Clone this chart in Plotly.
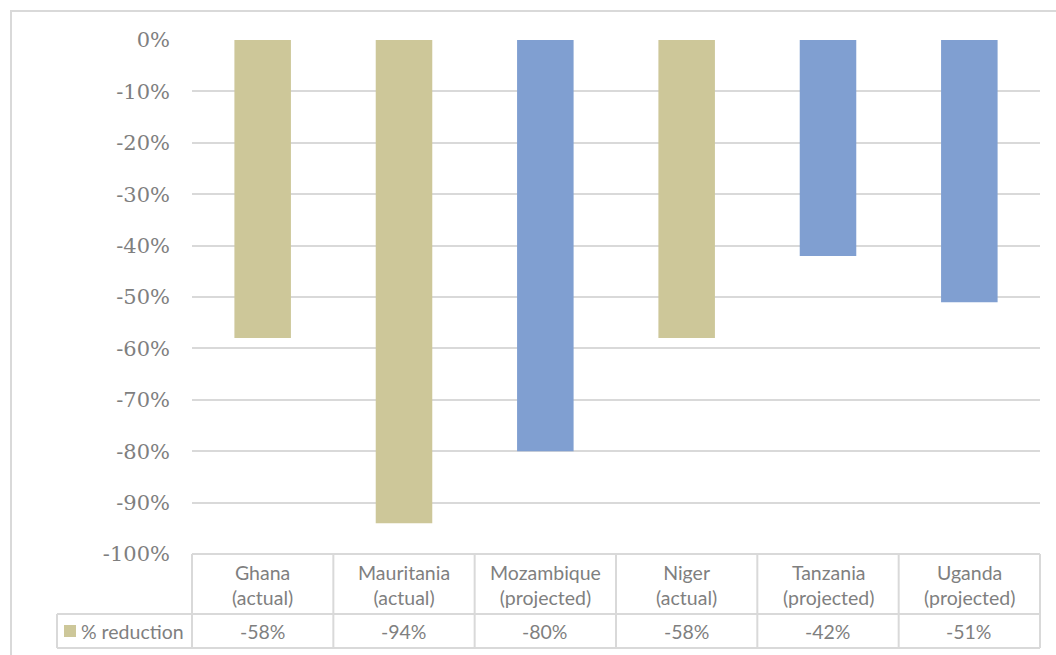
import plotly.graph_objects as go

# ---- data ----
countries = ["Ghana", "Mauritania", "Mozambique", "Niger", "Tanzania", "Uganda"]
status = ["actual", "actual", "projected", "actual", "projected", "projected"]
reduction = [-0.58, -0.94, -0.80, -0.58, -0.42, -0.51]
series_name = "% reduction"
y_ticks = [0, -0.1, -0.2, -0.3, -0.4, -0.5, -0.6, -0.7, -0.8, -0.9, -1.0]

# ---- style ----
W, H = 1056, 655
L, R, T, B = 192, 1040, 40, 554   # plot area in px
TAN = "#CDC799"
BLUE = "#809FD1"
GRID = "#D9D9D9"
TXT = "#7F7F7F"
colors = [TAN if s == "actual" else BLUE for s in status]
labels = [f"{c}<br>({s})" for c, s in zip(countries, status)]

def px(x):
    return (x - L) / (R - L)

def py(y):
    return (B - y) / (B - T)

fig = go.Figure()
fig.add_trace(go.Bar(
    x=list(range(len(countries))), y=reduction, marker_color=colors,
    marker_line_width=0, width=0.4, name=series_name, showlegend=False,
))

fig.update_layout(
    width=W, height=H,
    margin=dict(l=L, r=W - R, t=T, b=H - B),
    plot_bgcolor="white", paper_bgcolor="white",
    xaxis=dict(range=[-0.5, len(countries) - 0.5], showticklabels=False,
               showgrid=False, zeroline=False, showline=False, fixedrange=True),
    yaxis=dict(range=[-1.0, 0.0], tickvals=y_ticks,
               ticktext=[f"-{round(-v*100)}%" if v < 0 else "0%" for v in y_ticks],
               showgrid=True, gridcolor=GRID, gridwidth=1.5,
               zeroline=False, showline=False, ticks="",
               ticklabelstandoff=21,
               tickfont=dict(family="DejaVu Serif", size=21, color=TXT)),
    font=dict(family="Lato", color=TXT),
)

shapes = []
line = dict(color=GRID, width=2)
# outer chart border
shapes.append(dict(type="rect", xref="paper", yref="paper",
                   x0=px(11), x1=px(W + 20), y0=py(H + 20), y1=py(11), line=line))
# table lines
n = len(countries)
cw = (R - L) / n
head_bot, tab_bot, leg_left = 614, 648, 57
shapes.append(dict(type="line", xref="paper", yref="paper",
                   x0=px(L), x1=px(R), y0=py(B), y1=py(B), line=line))
shapes.append(dict(type="line", xref="paper", yref="paper",
                   x0=px(leg_left), x1=px(R), y0=py(head_bot), y1=py(head_bot), line=line))
shapes.append(dict(type="line", xref="paper", yref="paper",
                   x0=px(leg_left), x1=px(R), y0=py(tab_bot), y1=py(tab_bot), line=line))
shapes.append(dict(type="line", xref="paper", yref="paper",
                   x0=px(leg_left), x1=px(leg_left), y0=py(head_bot), y1=py(tab_bot), line=line))
for i in range(n + 1):
    xx = L + i * cw
    shapes.append(dict(type="line", xref="paper", yref="paper",
                       x0=px(xx), x1=px(xx), y0=py(B), y1=py(tab_bot), line=line))
# legend swatch
shapes.append(dict(type="rect", xref="paper", yref="paper",
                   x0=px(64), x1=px(76), y0=py(637), y1=py(625),
                   fillcolor=TAN, line=dict(width=0)))

FS = 19.5
annotations = []
for i in range(n):
    annotations.append(dict(x=i, xref="x", y=py((B + head_bot) / 2 + 1), yref="paper",
                            xanchor="center", yanchor="middle",
                            text=labels[i], showarrow=False, align="center",
                            font=dict(family="Lato", size=FS, color=TXT)))
    annotations.append(dict(x=i, xref="x", y=py((head_bot + tab_bot) / 2), yref="paper",
                            xanchor="center", yanchor="middle",
                            text=f"-{round(-reduction[i]*100)}%", showarrow=False,
                            font=dict(family="Lato", size=FS, color=TXT)))
annotations.append(dict(x=px(79), xref="paper", xanchor="left",
                        y=py((head_bot + tab_bot) / 2), yref="paper", yanchor="middle",
                        text=series_name, showarrow=False,
                        font=dict(family="Lato", size=FS, color=TXT)))

fig.update_layout(shapes=shapes, annotations=annotations)
fig.write_html("out.html")
